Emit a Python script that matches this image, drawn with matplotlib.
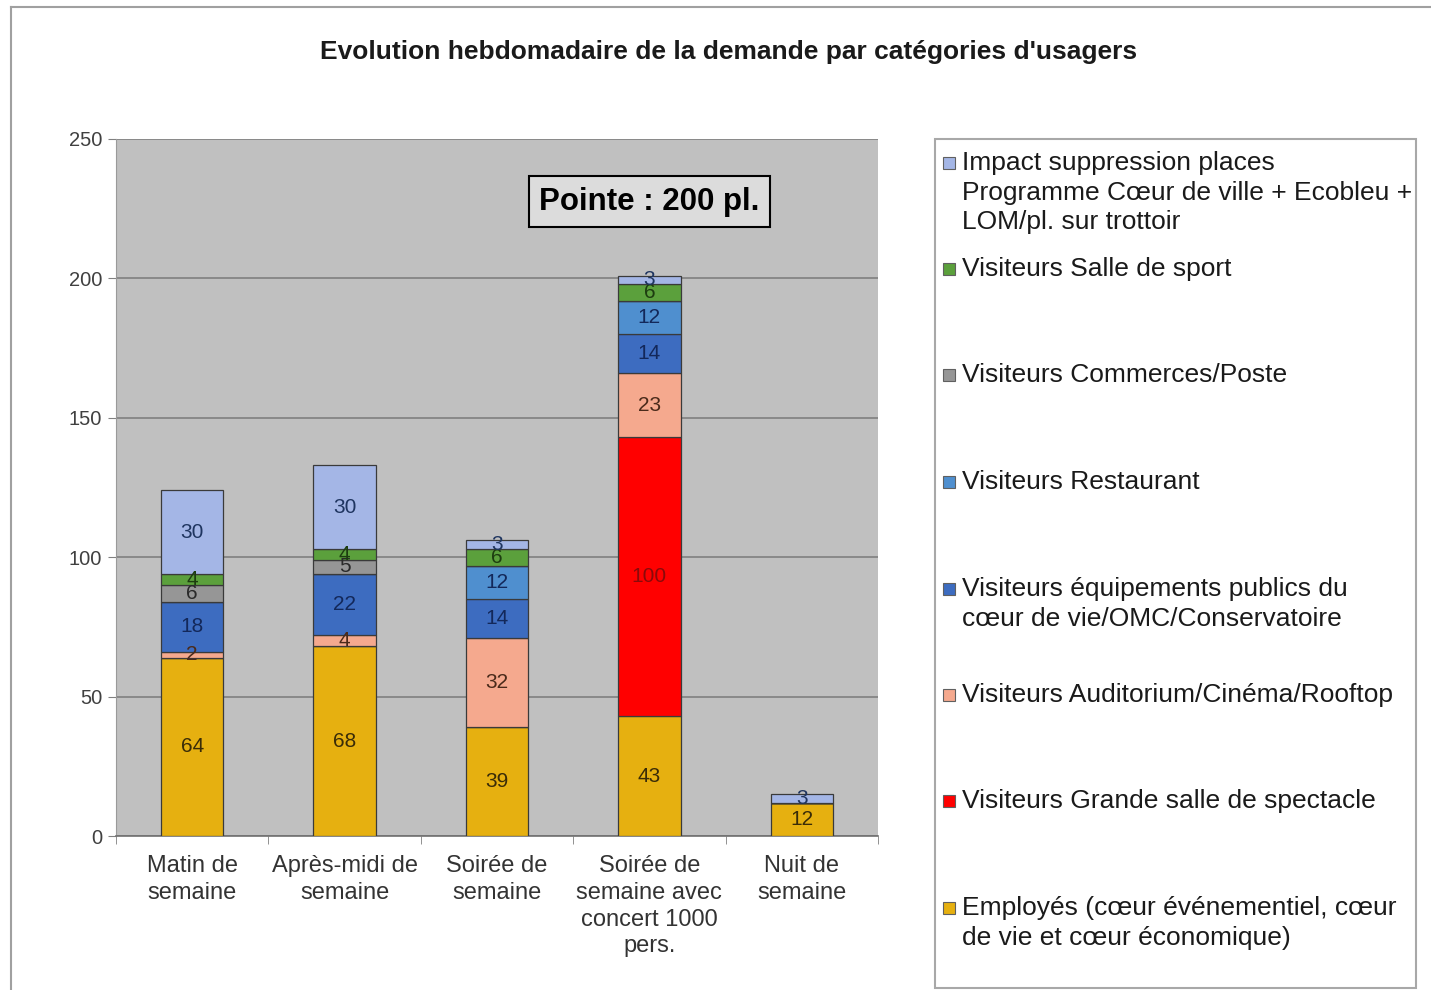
import numpy as np
import matplotlib.pyplot as plt
from matplotlib.patches import Rectangle
from matplotlib.lines import Line2D

plt.rcParams['font.family'] = ['Liberation Sans', 'DejaVu Sans']

categories = ['Matin de\nsemaine', 'Après-midi de\nsemaine', 'Soirée de\nsemaine',
              'Soirée de\nsemaine avec\nconcert 1000\npers.', 'Nuit de\nsemaine']

# stacked from the bottom up
employes = [64, 68, 39, 43, 12]
grande_salle = [0, 0, 0, 100, 0]
auditorium = [2, 4, 32, 23, 0]
equipements = [18, 22, 14, 14, 0]
restaurant = [0, 0, 12, 12, 0]
commerces = [6, 5, 0, 0, 0]
sport = [4, 4, 6, 6, 0]
impact = [30, 30, 3, 3, 3]

series = [employes, grande_salle, auditorium, equipements,
          restaurant, commerces, sport, impact]
names = ['Employés (cœur événementiel, cœur\nde vie et cœur économique)',
         'Visiteurs Grande salle de spectacle',
         'Visiteurs Auditorium/Cinéma/Rooftop',
         'Visiteurs équipements publics du\ncœur de vie/OMC/Conservatoire',
         'Visiteurs Restaurant',
         'Visiteurs Commerces/Poste',
         'Visiteurs Salle de sport',
         'Impact suppression places\nProgramme Cœur de ville + Ecobleu +\nLOM/pl. sur trottoir']
colors = ['#E6B010', '#FF0000', '#F5A98E', '#3D6CC0',
          '#4F8FCF', '#969696', '#5BA03C', '#A4B6E6']
text_colors = ['#3a2c08', '#8a0a0a', '#4a2a1a', '#13285a',
               '#13285a', '#2a2a2a', '#1d3d10', '#1f3560']

W, H = 1431, 990
fig = plt.figure(figsize=(W / 100, H / 100), dpi=100)

def fx(px):
    return px / W

def fy(py):
    return 1 - py / H

ax = fig.add_axes([fx(116), fy(836), fx(878) - fx(116), fy(139) - fy(836)])
ax.set_facecolor('#C0C0C0')

x = np.arange(len(categories))
bottom = np.zeros(len(categories))
for vals, col, tcol in zip(series, colors, text_colors):
    vals = np.array(vals, dtype=float)
    bars = ax.bar(x, vals, 0.41, bottom=bottom, color=col,
                  edgecolor='#3a3a3a', linewidth=0.9, zorder=3)
    labels = ['' if v == 0 else f'{int(v)}' for v in vals]
    ax.bar_label(bars, labels=labels, label_type='center',
                 fontsize=15, color=tcol, zorder=4)
    bottom += vals

ax.set_xlim(-0.5, 4.5)
ax.set_ylim(0, 250)
ax.set_yticks(np.arange(0, 251, 50))
ax.yaxis.grid(True, color='#7a7a7a', linewidth=1.1, zorder=1)
ax.set_axisbelow(True)

ax.set_xticks(x)
ax.set_xticklabels(categories, fontsize=17, color='#333333', linespacing=1.27)
ax.set_xticks(np.arange(-0.5, 5, 1), minor=True)
ax.tick_params(axis='x', which='major', length=0, pad=14)
ax.tick_params(axis='x', which='minor', length=6, color='#808080', direction='out')
ax.tick_params(axis='y', length=6, color='#808080', labelsize=14.5,
               labelcolor='#404040', pad=4)

for side in ['top', 'right']:
    ax.spines[side].set_visible(False)
ax.spines['left'].set_color('#9a9a9a')
ax.spines['bottom'].set_color('#707070')
ax.spines['bottom'].set_linewidth(1.2)

ax.text(3.0, 227.5, 'Pointe : 200 pl.', ha='center', va='center',
        fontsize=22.5, fontweight='bold', color='black', zorder=5,
        bbox=dict(boxstyle='square,pad=0.33', fc='#DCDCDC', ec='black', lw=1.5))

fig.text(fx(729), fy(52), "Evolution hebdomadaire de la demande par catégories d'usagers",
         ha='center', va='center', fontsize=19, fontweight='bold', color='#1a1a1a')

# outer frame of the chart area
fig.add_artist(Line2D([fx(11), 1], [fy(7), fy(7)], color='#a0a0a0', lw=1.5))
fig.add_artist(Line2D([fx(11), fx(11)], [fy(7), 0], color='#a0a0a0', lw=1.5))

# legend drawn by hand so each square sits on the first text line
fig.add_artist(Rectangle((fx(935), fy(988)), fx(1416) - fx(935), fy(139) - fy(988),
                         transform=fig.transFigure, fc='white', ec='#a8a8a8', lw=1.5))
row_y = [163, 269, 375, 482, 589, 695, 801, 908]
for name, col, py in zip(names[::-1], colors[::-1], row_y):
    fig.add_artist(Rectangle((fx(943), fy(py + 6)), fx(12), 12 / H,
                             transform=fig.transFigure, fc=col, ec='#606060', lw=0.8))
    fig.text(fx(962), fy(py - 12), name, ha='left', va='top',
             fontsize=19, color='#1a1a1a', linespacing=1.3)

fig.savefig('out.png', dpi=100)
